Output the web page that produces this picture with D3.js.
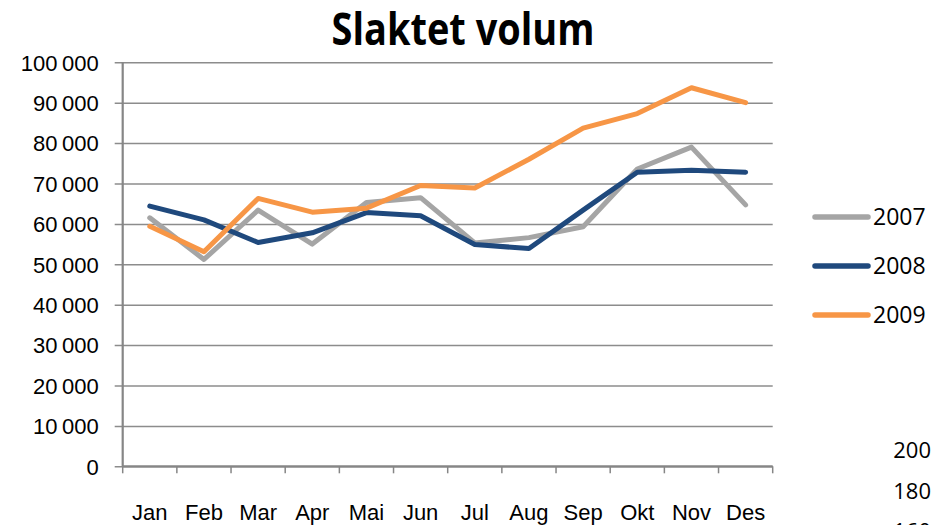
<!DOCTYPE html>
<html>
<head>
<meta charset="utf-8">
<script src="https://cdn.jsdelivr.net/npm/d3@7"></script>
<style>
  body { margin: 0; background: #fff; }
  svg { display: block; font-family: "Open Sans", sans-serif; }
</style>
</head>
<body>
<div id="chart"></div>
<script>
// data
const months = ["Jan", "Feb", "Mar", "Apr", "Mai", "Jun", "Jul", "Aug", "Sep", "Okt", "Nov", "Des"];
const years = ["2007", "2008", "2009"];
const values2007 = [61500, 51200, 63400, 55000, 65300, 66500, 55300, 56600, 59300, 73600, 79000, 64700];
const values2008 = [64400, 61000, 55400, 57800, 62800, 62000, 54900, 53900, 63400, 72800, 73300, 72800];
const values2009 = [59400, 53100, 66300, 62900, 63900, 69500, 68900, 76000, 83700, 87300, 93700, 90000];
const yTicks = [0, 10000, 20000, 30000, 40000, 50000, 60000, 70000, 80000, 90000, 100000];
const colors = ["#A5A5A5", "#1F497D", "#F79646"];
const strayLabels = ["200", "180", "160"];

const series = years.map((y, i) => ({
    year: y,
    color: colors[i],
    values: [values2007, values2008, values2009][i]
}));

const W = 934, H = 525;
const plot = { left: 122.7, right: 772.7, top: 62.3, bottom: 466.3 };

const svg = d3.select("#chart").append("svg")
    .attr("width", W)
    .attr("height", H);

const x = d3.scaleBand()
    .domain(months)
    .range([plot.left, plot.right]);

const y = d3.scaleLinear()
    .domain([0, 100000])
    .range([plot.bottom, plot.top]);

const fmt = d3.formatLocale({ decimal: ",", thousands: "\u2009", grouping: [3], currency: ["", ""] }).format(",d");

// gridlines + y axis labels
const yAxis = svg.append("g")
    .attr("transform", `translate(${plot.left},0)`)
    .call(d3.axisLeft(y)
        .tickValues(yTicks)
        .tickSize(-(plot.right - plot.left))
        .tickFormat(fmt));
yAxis.select(".domain").remove();
yAxis.selectAll(".tick line")
    .attr("x1", -8)
    .attr("stroke", "#8C8C8C")
    .attr("stroke-width", 1.5);
yAxis.selectAll(".tick text")
    .attr("x", -24)
    .attr("dy", "0.35em")
    .style("font-size", "22px")
    .style("fill", "#000");

// vertical axis line
svg.append("line")
    .attr("x1", plot.left).attr("x2", plot.left)
    .attr("y1", plot.top).attr("y2", plot.bottom)
    .attr("stroke", "#868686")
    .attr("stroke-width", 2.2);

// x axis
const xAxis = svg.append("g")
    .attr("transform", `translate(0,${plot.bottom})`)
    .call(d3.axisBottom(x).tickSize(0));
xAxis.select(".domain")
    .attr("stroke", "#868686")
    .attr("stroke-width", 2.2)
    .attr("d", `M${plot.left},0H${plot.right}`);
xAxis.selectAll(".tick text")
    .attr("y", 54)
    .attr("dy", 0)
    .style("font-size", "22px")
    .style("fill", "#000");

// tick marks between categories
const boundaries = months.map(m => x(m)).concat([x.range()[1]]);
svg.append("g")
    .selectAll("line")
    .data(boundaries)
    .join("line")
    .attr("x1", d => d).attr("x2", d => d)
    .attr("y1", plot.bottom)
    .attr("y2", plot.bottom + 7)
    .attr("stroke", "#868686")
    .attr("stroke-width", 1.5);

// lines
const line = d3.line()
    .x((d, i) => x(months[i]) + x.bandwidth() / 2)
    .y(d => y(d));

svg.append("g")
    .selectAll("path")
    .data(series)
    .join("path")
    .attr("d", d => line(d.values))
    .attr("fill", "none")
    .attr("stroke", d => d.color)
    .attr("stroke-width", 5)
    .attr("stroke-linejoin", "round")
    .attr("stroke-linecap", "round");

// title
svg.append("text")
    .attr("x", 463)
    .attr("y", 45)
    .attr("text-anchor", "middle")
    .attr("textLength", 263)
    .attr("lengthAdjust", "spacingAndGlyphs")
    .style("font-size", "45px")
    .style("font-weight", "bold")
    .style("fill", "#000")
    .text("Slaktet volum");

// legend
const legend = svg.append("g")
    .selectAll("g")
    .data(series)
    .join("g")
    .attr("transform", (d, i) => `translate(815,${217 + i * 49})`);

legend.append("line")
    .attr("x1", 0).attr("x2", 53)
    .attr("stroke", d => d.color)
    .attr("stroke-width", 5.5)
    .attr("stroke-linecap", "round");

legend.append("text")
    .attr("x", 58)
    .attr("dy", "0.36em")
    .style("font-size", "23px")
    .style("fill", "#000")
    .text(d => d.year);

// labels from chart below, partly visible
svg.append("g")
    .selectAll("text")
    .data(strayLabels)
    .join("text")
    .attr("x", 931)
    .attr("y", (d, i) => 458 + i * 40.5)
    .attr("text-anchor", "end")
    .style("font-size", "22px")
    .style("fill", "#000")
    .text(d => d);
</script>
</body>
</html>
